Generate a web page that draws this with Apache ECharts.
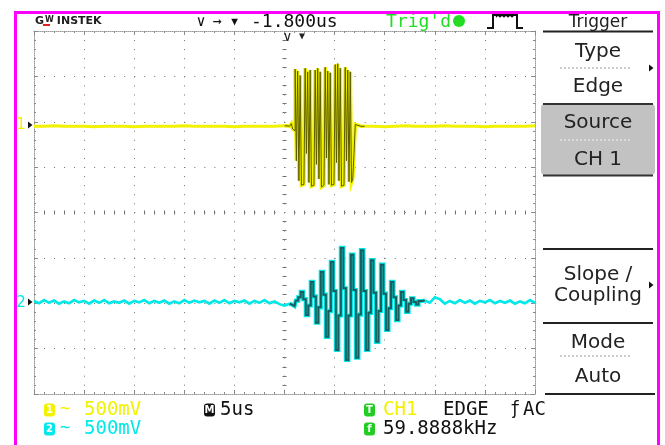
<!DOCTYPE html>
<html><head><meta charset="utf-8">
<script src="https://cdn.jsdelivr.net/npm/echarts@6/dist/echarts.min.js"></script>
<style>html,body{margin:0;padding:0;background:#fff}#c{width:665px;height:445px}</style>
</head><body><div id="c"></div>
<script>
// Horizontal: 5 us/div over 10 divisions; vertical: 500 mV/div over 8 divisions
const timeMin = -25, timeMax = 25, timePerDiv = 5;
const divMin = -4, divMax = 4;
const mVPerDiv = 500;
const ch1OffsetDiv = 1.9;    // CH1 ground marker above centre
const ch2OffsetDiv = -1.97;  // CH2 ground marker below centre

// CH1 samples (mV): quiet lead-in, burst, quiet tail
const ch1PreStart = -25, ch1PreStep = 1;
const ch1Pre = [0,0,5,0,0,0,-5,0,0,0,-5,0,0,0,0,5,0,0,0,0,-5,0,0,0,0,5];
const ch1BurstStart = 0.5, ch1BurstStep = 0.125;
const ch1Burst = [0,10,30,-30,-50,
  630,-380,610,-600,560,-650, -640,-620,
  640,-300,600,-620,620,-660, -650,-630,
  620,-420,640,-580,600,-670, -650,-640,
  650,-350,610,-640,590,-650, -640,-630,
  680,-400,690,-600,640,-660, -650,-640,
  650,-380,620,-610,600,-620,
  -580,-300,20,0];
const ch1PostStart = 8, ch1PostStep = 1;
const ch1Post = [0,0,-5,0,5,0,0,0,5,0,0,0,-5,0,0,0,0,5];

// CH2 samples (mV)
const ch2PreStart = -25, ch2PreStep = 0.5;
const ch2Pre = [10,-15,20,-10,15,-20,5,-15,20,-5, 10,-20,15,-10,20,-15,5,-10,15,-20,
                10,-5,20,-15,10,-10,15,-20,5,-15, 20,-10,15,-5,10,-20,15,-10,20,-15,
                10,-5,15,-20,10,-10,20,-15,5,-25, -40,-20];
const ch2BurstStart = 0.75, ch2BurstStep = 0.25;
const ch2Burst = [-30,-45,15,50,110,30,-145,-40,220,60,-230,-60,330,80,-385,-100,
                  440,120,-530,-150,595,150,-640,-150,520,130,-615,-140,570,120,-530,-120,
                  460,100,-440,-100,410,90,-310,-70,220,50,-200,-40,110,20,-110,-20,
                  40,0,-30,10];
const ch2PostStart = 14, ch2PostStep = 0.5;
const ch2Post = [15,-10,50,30,-20,10,-15,20,-10,15,-20,10,-5,20,-15,10,-10,15,-20,5,-15,20,-10];

// Readouts
const topDelay = '-1.800us';
const trigState = "Trig'd";
const menuTitle = 'Trigger';
const menuItems = ['Type', 'Edge', 'Source', 'CH 1', 'Slope /', 'Coupling', 'Mode', 'Auto'];
const ch1Scale = '500mV', ch2Scale = '500mV', timeScale = '5us';
const trigSource = 'CH1', trigType = 'EDGE', trigCoupling = 'AC', trigFreq = '59.8888kHz';

function toPairs(start, step, vals) { return vals.map((v, i) => [start + i * step, v]); }
const ch1PreData = toPairs(ch1PreStart, ch1PreStep, ch1Pre);
const ch1PostData = toPairs(ch1PostStart, ch1PostStep, ch1Post);
const ch1BurstData = [ch1PreData[ch1PreData.length - 1]]
  .concat(toPairs(ch1BurstStart, ch1BurstStep, ch1Burst), [ch1PostData[0]]);
const ch2PreData = toPairs(ch2PreStart, ch2PreStep, ch2Pre);
const ch2PostData = toPairs(ch2PostStart, ch2PostStep, ch2Post);
const ch2BurstData = [ch2PreData[ch2PreData.length - 1]]
  .concat(toPairs(ch2BurstStart, ch2BurstStep, ch2Burst), [ch2PostData[0]]);

const GRAT = '#707070';
const YEL = '#f2f200', YEL_CORE = '#5e5e00';
const CYA = '#00e8e8', CYA_CORE = '#1b5c5c';
const MONO = '"DejaVu Sans Mono", monospace';
const SANS = '"DejaVu Sans", sans-serif';

function borderX(pos) {
  return { type: 'value', min: timeMin, max: timeMax, interval: timePerDiv, position: pos,
    axisLine: { show: true, onZero: false, lineStyle: { color: '#9a9a9a', width: 1, type: [1, 1] } },
    axisTick: { show: true, inside: true, length: 4, lineStyle: { color: '#8a8a8a' } },
    minorTick: { show: true, splitNumber: 5, length: 2, lineStyle: { color: '#8a8a8a' } },
    axisLabel: { show: false }, splitLine: { show: false } };
}
function borderY(pos) {
  return { type: 'value', min: divMin, max: divMax, interval: 1, position: pos,
    axisLine: { show: true, onZero: false, lineStyle: { color: '#9a9a9a', width: 1, type: [1, 1] } },
    axisTick: { show: true, inside: true, length: 4, lineStyle: { color: '#8a8a8a' } },
    minorTick: { show: true, splitNumber: 5, length: 2, lineStyle: { color: '#8a8a8a' } },
    axisLabel: { show: false }, splitLine: { show: false } };
}
function centreX(pos, idx) {
  const a = borderX(pos);
  a.axisLine = { show: false, onZero: true, onZeroAxisIndex: idx };
  a.axisTick = { show: false };
  a.minorTick = { show: true, splitNumber: 5, length: 2, lineStyle: { color: GRAT } };
  return a;
}
function centreY(pos, idx) {
  const a = borderY(pos);
  a.axisLine = { show: false, onZero: true, onZeroAxisIndex: idx };
  a.axisTick = { show: false };
  a.minorTick = { show: true, splitNumber: 5, length: 2, lineStyle: { color: GRAT } };
  return a;
}

const xAxes = [borderX('bottom'), borderX('top'), centreX('bottom', 0), centreX('top', 1)];
xAxes[0].splitLine = { show: true, lineStyle: { color: GRAT, width: 1, type: [1, 8.07] } };
const yAxes = [borderY('left'), borderY('right'), centreY('left', 0), centreY('right', 1)];
yAxes[0].splitLine = { show: true, lineStyle: { color: GRAT, width: 1, type: [1, 9.02] } };
// channel axes in millivolts, shifted by each channel's position offset
yAxes.push({ type: 'value', show: false, axisLine: { onZero: false },
  min: (divMin - ch1OffsetDiv) * mVPerDiv, max: (divMax - ch1OffsetDiv) * mVPerDiv });
yAxes.push({ type: 'value', show: false, axisLine: { onZero: false },
  min: (divMin - ch2OffsetDiv) * mVPerDiv, max: (divMax - ch2OffsetDiv) * mVPerDiv });

function trace(data, yIdx, color, width, z, step) {
  return { type: 'line', data, xAxisIndex: 0, yAxisIndex: yIdx, step: step || false, showSymbol: false,
    symbol: 'none', lineStyle: { color, width, join: 'miter' }, z, clip: true, silent: true };
}

// ---- screen chrome ----
const g = [];
function txt(x, y, text, size, color, font, align, weight) {
  g.push({ type: 'text', x, y, z: 50, style: { text, fill: color,
    font: (weight ? weight + ' ' : '') + size + 'px ' + font,
    textAlign: align || 'left', textVerticalAlign: 'middle' } });
}
function line(x1, y1, x2, y2, color, w, dash) {
  g.push({ type: 'line', z: 40, shape: { x1, y1, x2, y2 }, style: { stroke: color, lineWidth: w, lineDash: dash || null } });
}
function badge(x, y, ch, bg) {
  g.push({ type: 'rect', z: 50, shape: { x, y: y - 6.5, width: 11, height: 13, r: 3 }, style: { fill: bg } });
  g.push({ type: 'text', z: 51, x: x + 5.5, y: y + 0.5, style: { text: ch, fill: '#fff', font: 'bold 10px ' + SANS, textAlign: 'center', textVerticalAlign: 'middle' } });
}
function tri(x, y) {
  g.push({ type: 'polygon', z: 50, shape: { points: [[x, y - 3.5], [x + 4.5, y], [x, y + 3.5]] }, style: { fill: '#111' } });
}

// outer frame
g.push({ type: 'rect', z: 60, shape: { x: 15.5, y: 12.5, width: 643, height: 460 }, style: { fill: null, stroke: '#ff00ff', lineWidth: 3 } });

// logo
g.push({ type: 'text', z: 50, x: 35, y: 21.5, style: { text: '{a|G}{b|W}{c|INSTEK}', textVerticalAlign: 'middle',
  rich: { a: { font: 'bold 11px ' + SANS, fill: '#222' }, b: { font: 'bold 8px ' + SANS, fill: '#222', padding: [0, 1, 3, 1] },
          c: { font: 'bold 11px ' + SANS, fill: '#222', padding: [0, 0, 0, 2] } } } });
line(43, 25, 50, 25, '#e0201c', 2);

// delay readout
txt(201, 22, '∨', 15, '#111', MONO, 'center');
txt(217, 22, '→', 15, '#111', MONO, 'center');
txt(234.5, 22, '▼', 11, '#111', MONO, 'center');
txt(251, 22, topDelay, 18, '#111', MONO);
txt(386, 22, trigState, 18, '#22dd22', MONO);
g.push({ type: 'circle', z: 50, shape: { cx: 459, cy: 21, r: 6 }, style: { fill: '#22dd22' } });
// trigger slope icon
g.push({ type: 'polyline', z: 50, shape: { points: [[487, 28], [493, 28], [493, 15], [517, 15], [517, 28], [523, 28]] },
  style: { stroke: '#111', lineWidth: 2, fill: null } });
g.push({ type: 'polyline', z: 50, shape: { points: [[496, 17], [498, 15], [500, 17], [502, 15], [504, 17], [506, 15], [508, 17], [510, 15], [512, 17], [514, 15]] },
  style: { stroke: '#111', lineWidth: 1.2, fill: null } });

// trigger point marker above graticule
txt(287.5, 37, '∨', 14, '#222', MONO, 'center');
txt(302, 36, '▼', 10, '#222', MONO, 'center');

// channel ground markers
txt(21, 125.5, '1', 15, YEL, SANS, 'center');
tri(28, 125);
txt(21, 303.5, '2', 15, CYA, SANS, 'center');
tri(28, 302);

// side menu
const MX = 598;
txt(MX, 22.5, menuTitle, 17, '#222', SANS, 'center');
line(543, 31.5, 653, 31.5, '#222', 2);
txt(MX, 51.5, menuItems[0], 20, '#222', SANS, 'center');
line(560, 68, 632, 68, '#999', 1, [2, 2]);
txt(MX, 86.5, menuItems[1], 20, '#222', SANS, 'center');
tri(649, 68);
g.push({ type: 'rect', z: 40, shape: { x: 541, y: 104, width: 114, height: 71, r: 4 }, style: { fill: '#c2c2c2' } });
line(543, 104, 653, 104, '#333', 2);
line(543, 175.5, 653, 175.5, '#333', 2);
line(560, 140, 632, 140, '#f4f4f4', 1, [2, 2]);
txt(MX, 122.5, menuItems[2], 20, '#222', SANS, 'center');
txt(MX, 159.5, menuItems[3], 20, '#222', SANS, 'center');
line(543, 249, 653, 249, '#222', 2);
txt(MX, 274.5, menuItems[4], 20, '#222', SANS, 'center');
txt(MX, 296, menuItems[5], 20, '#222', SANS, 'center');
tri(649, 285);
line(543, 323, 653, 323, '#222', 2);
txt(MX, 342.5, menuItems[6], 20, '#222', SANS, 'center');
line(560, 356, 632, 356, '#999', 1, [2, 2]);
txt(MX, 376.5, menuItems[7], 20, '#222', SANS, 'center');
line(545, 394, 655, 394, '#222', 2);

// bottom status lines
const R1 = 410, R2 = 429;
badge(44, R1, '1', YEL);
txt(60, R1, '~', 17, YEL, MONO);
txt(84, R1, ch1Scale, 19, YEL, MONO);
badge(44, R2, '2', CYA);
txt(60, R2, '~', 17, CYA, MONO);
txt(84, R2, ch2Scale, 19, CYA, MONO);
badge(204, R1, 'M', '#111');
txt(220, R1, timeScale, 19, '#111', MONO);
badge(364, R1, 'T', '#22cc22');
txt(383, R1, trigSource, 19, YEL, MONO);
txt(443, R1, trigType, 19, '#111', MONO);
txt(510, R1, 'ƒ', 17, '#111', MONO);
txt(523, R1, trigCoupling, 19, '#111', MONO);
badge(364, R2, 'f', '#22cc22');
txt(383, R2, trigFreq, 19, '#111', MONO);

const chart = echarts.init(document.getElementById('c'));
chart.setOption({
  animation: false,
  backgroundColor: '#fff',
  grid: { left: 34, right: 130, top: 31, bottom: 51, outerBoundsMode: 'none', containLabel: false },
  xAxis: xAxes,
  yAxis: yAxes,
  series: [
    trace(ch1PreData, 4, YEL, 3, 10),
    trace(ch1PostData, 4, YEL, 3, 10),
    trace(ch1BurstData, 4, YEL, 3.6, 10, 'middle'),
    trace(ch1BurstData, 4, YEL_CORE, 1.0, 11, 'middle'),
    trace(ch2PreData, 5, CYA, 2.6, 12),
    trace(ch2PostData, 5, CYA, 2.6, 12),
    trace(ch2BurstData, 5, CYA, 4.2, 12, 'middle'),
    trace(ch2BurstData, 5, CYA_CORE, 2, 13, 'middle')
  ],
  graphic: g
});
</script>
</body></html>
